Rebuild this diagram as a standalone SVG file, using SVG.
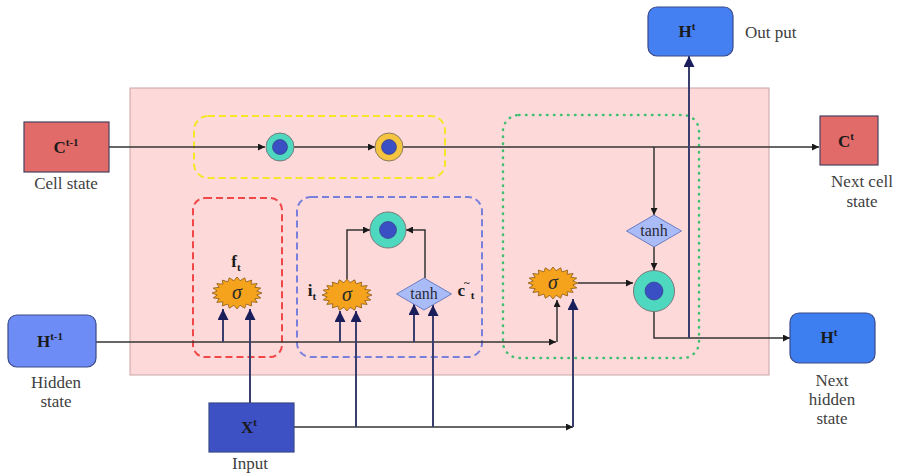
<svg xmlns="http://www.w3.org/2000/svg" width="897" height="473" viewBox="0 0 897 473">
  <style>
    .lbl { font-family: "Liberation Serif", "Times New Roman", serif; font-weight: bold; font-size: 17px; fill: #1a1a1a; text-anchor: middle; }
    .sup { font-size: 11px; }
    .cap { font-family: "Liberation Serif", "Times New Roman", serif; font-size: 17px; fill: #404040; text-anchor: middle; }
    .cap-left { text-anchor: start; }
    .gate { font-family: "Liberation Serif", "Times New Roman", serif; font-style: italic; font-size: 20px; fill: #2a2a2a; text-anchor: middle; }
    .tanh { font-family: "Liberation Serif", "Times New Roman", serif; font-size: 16px; fill: #2a2a3a; text-anchor: middle; }
    .flow { fill: none; stroke: #333; stroke-width: 1.5; }
    .inp { fill: none; stroke: #3a3e6e; stroke-width: 2; }
    .sigma { fill: #f5a21d; stroke: #8a5a10; stroke-width: 0.8; }
    .diamond { fill: #aabcf7; stroke: #6c7cc0; stroke-width: 1; }
    .mul-outer { fill: #4fd8c0; stroke: #7a7a7a; stroke-width: 1; }
    .add-outer { fill: #f5c542; stroke: #8a7a60; stroke-width: 1; }
    .mul-inner { fill: #3b4fc4; stroke: #33337a; stroke-width: 0.6; }
    .cbox { fill: #e06b68; stroke: #4a4060; stroke-width: 1.2; }
    .hbox { stroke: #3a4a8a; stroke-width: 1.2; }
  </style>
  <defs>
    <marker id="arr" viewBox="0 0 10 10" refX="10" refY="5" markerWidth="7" markerHeight="7" markerUnits="userSpaceOnUse" orient="auto">
      <path d="M0,0 L10,5 L0,10 z" fill="#1a1a1a"/>
    </marker>
    <marker id="up" viewBox="0 0 10 10" refX="10" refY="5" markerWidth="11" markerHeight="11" markerUnits="userSpaceOnUse" orient="auto">
      <path d="M0,0 L10,5 L0,10 z" fill="#1a1f5c"/>
    </marker>
    <polygon id="spiky" points="25,0 19.8,2 23.8,4.9 17.8,5.7 20.2,9.4 14.1,8.8 14.7,12.9 9.1,11.1 7.7,15.2 3.1,12.3 0,16 -3.1,12.3 -7.7,15.2 -9.1,11.1 -14.7,12.9 -14.1,8.8 -20.2,9.4 -17.8,5.7 -23.8,4.9 -19.8,2 -25,0 -19.8,-2 -23.8,-4.9 -17.8,-5.7 -20.2,-9.4 -14.1,-8.8 -14.7,-12.9 -9.1,-11.1 -7.7,-15.2 -3.1,-12.3 0,-16 3.1,-12.3 7.7,-15.2 9.1,-11.1 14.7,-12.9 14.1,-8.8 20.2,-9.4 17.8,-5.7 23.8,-4.9 19.8,-2"/>
    <polygon id="rhomb" points="0,-16 27.5,0 0,16 -27.5,0"/>
  </defs>

  <rect width="897" height="473" fill="#ffffff"/>

  <!-- LSTM cell body -->
  <g id="cell-body">
    <rect x="130" y="88" width="639" height="287" fill="#fdd9d9" stroke="#c9a3a3" stroke-width="1"/>
  </g>

  <!-- gate regions -->
  <g id="regions" fill="none" stroke-width="2">
    <rect x="194" y="116" width="251" height="62" rx="14" stroke="#f5e62a" stroke-dasharray="7,4"/>
    <rect x="193" y="198" width="89" height="159" rx="12" stroke="#f04848" stroke-dasharray="7,4"/>
    <rect x="297" y="197" width="185" height="160" rx="14" stroke="#7880dc" stroke-dasharray="7,4"/>
    <rect x="503" y="115" width="196" height="243" rx="16" stroke="#40c070" stroke-dasharray="0.5,6.5" stroke-linecap="round" stroke-width="2.5"/>
  </g>

  <!-- connectors -->
  <g id="connectors">
    <!-- cell state path -->
    <path class="flow" d="M109,147 H265" marker-end="url(#arr)"/>
    <path class="flow" d="M294,147 H375" marker-end="url(#arr)"/>
    <path class="flow" d="M403,147 H819" marker-end="url(#arr)"/>
    <!-- hidden state path -->
    <path class="flow" d="M96,342 H556" marker-end="url(#arr)"/>
    <path class="flow" d="M557,342 V300" marker-end="url(#arr)"/>
    <!-- input path -->
    <path class="flow" d="M294,427 H573" marker-end="url(#arr)"/>
    <!-- hidden state into gates -->
    <path class="inp" d="M223,342 V309" marker-end="url(#up)"/>
    <path class="inp" d="M340,342 V311" marker-end="url(#up)"/>
    <path class="inp" d="M414,342 V304" marker-end="url(#up)"/>
    <!-- input into gates -->
    <path class="inp" d="M250,403 V309" marker-end="url(#up)"/>
    <path class="inp" d="M356,427 V311" marker-end="url(#up)"/>
    <path class="inp" d="M433,427 V305" marker-end="url(#up)"/>
    <path class="inp" d="M573,427 V299" marker-end="url(#up)"/>
    <!-- input gate and candidate to product -->
    <path class="flow" d="M347,279 V230 H370" marker-end="url(#arr)"/>
    <path class="flow" d="M425,278 V230 H406" marker-end="url(#arr)"/>
    <!-- output branch -->
    <path class="flow" d="M654,147 V215" marker-end="url(#arr)"/>
    <path class="flow" d="M654,247 V270" marker-end="url(#arr)"/>
    <path class="flow" d="M578,283 H633" marker-end="url(#arr)"/>
    <path class="flow" d="M654,311 V338 H790" marker-end="url(#arr)"/>
    <path class="inp" d="M689,338 V56" marker-end="url(#up)"/>
  </g>

  <!-- previous cell state -->
  <g id="c-prev">
    <rect class="cbox" x="24" y="122" width="85" height="50"/>
    <text class="lbl" x="66" y="153">C<tspan class="sup" dy="-7">t-1</tspan></text>
    <text class="cap" x="66" y="189">Cell state</text>
  </g>

  <!-- previous hidden state -->
  <g id="h-prev">
    <rect class="hbox" x="8" y="315" width="88" height="52" rx="9" fill="#6e8cf5"/>
    <text class="lbl" x="50" y="347">H<tspan class="sup" dy="-7">t-1</tspan></text>
    <text class="cap" x="56" y="388">Hidden</text>
    <text class="cap" x="56" y="407">state</text>
  </g>

  <!-- input -->
  <g id="x-in">
    <rect class="hbox" x="209" y="403" width="85" height="49" fill="#3d50c4"/>
    <text class="lbl" x="249" y="433">X<tspan class="sup" dy="-7">t</tspan></text>
    <text class="cap" x="250" y="469">Input</text>
  </g>

  <!-- forget-gate product -->
  <g id="mul-forget">
    <circle class="mul-outer" cx="280" cy="147" r="14"/>
    <circle class="mul-inner" cx="280" cy="147" r="7.5"/>
  </g>

  <!-- cell update sum -->
  <g id="add-cell">
    <circle class="add-outer" cx="389" cy="147" r="14"/>
    <circle class="mul-inner" cx="389" cy="147" r="7.5"/>
  </g>

  <!-- forget gate -->
  <g id="gate-f">
    <use href="#spiky" class="sigma" transform="translate(237,293)"/>
    <text class="gate" x="237" y="299">σ</text>
    <text class="lbl" x="236" y="267" font-size="16">f<tspan class="sup" dy="4">t</tspan></text>
  </g>

  <!-- input gate -->
  <g id="gate-i">
    <use href="#spiky" class="sigma" transform="translate(347,295)"/>
    <text class="gate" x="347" y="301">σ</text>
    <text class="lbl" x="312" y="296" font-size="16">i<tspan class="sup" dy="4">t</tspan></text>
  </g>

  <!-- candidate -->
  <g id="cand">
    <use href="#rhomb" class="diamond" transform="translate(424,294)"/>
    <text class="tanh" x="424" y="299">tanh</text>
    <text class="lbl" x="466" y="296" font-size="16">c<tspan class="sup" dx="-1" dy="-10">~</tspan><tspan class="sup" dx="1" dy="13">t</tspan></text>
  </g>

  <!-- input-gate product -->
  <g id="mul-input">
    <circle class="mul-outer" cx="388" cy="230" r="18"/>
    <circle class="mul-inner" cx="388" cy="230" r="8.5"/>
  </g>

  <!-- output gate -->
  <g id="gate-o">
    <use href="#spiky" class="sigma" transform="translate(553,283)"/>
    <text class="gate" x="553" y="289">σ</text>
  </g>

  <!-- cell tanh -->
  <g id="cell-tanh">
    <use href="#rhomb" class="diamond" transform="translate(654,231)"/>
    <text class="tanh" x="654" y="236">tanh</text>
  </g>

  <!-- output product -->
  <g id="mul-output">
    <circle class="mul-outer" cx="654" cy="291" r="20.5"/>
    <circle class="mul-inner" cx="654" cy="291" r="9"/>
  </g>

  <!-- next cell state -->
  <g id="c-next">
    <rect class="cbox" x="820" y="116" width="58" height="49"/>
    <text class="lbl" x="846" y="147">C<tspan class="sup" dy="-7">t</tspan></text>
    <text class="cap" x="862" y="187">Next cell</text>
    <text class="cap" x="862" y="207">state</text>
  </g>

  <!-- output -->
  <g id="h-out">
    <rect class="hbox" x="648" y="7" width="85" height="49" rx="9" fill="#4580f2"/>
    <text class="lbl" x="687" y="37">H<tspan class="sup" dy="-7">t</tspan></text>
    <text class="cap cap-left" x="745" y="38">Out put</text>
  </g>

  <!-- next hidden state -->
  <g id="h-next">
    <rect class="hbox" x="790" y="313" width="85" height="50" rx="9" fill="#3d7ef0"/>
    <text class="lbl" x="829" y="343">H<tspan class="sup" dy="-7">t</tspan></text>
    <text class="cap" x="832" y="386">Next</text>
    <text class="cap" x="832" y="405">hidden</text>
    <text class="cap" x="832" y="424">state</text>
  </g>
</svg>
